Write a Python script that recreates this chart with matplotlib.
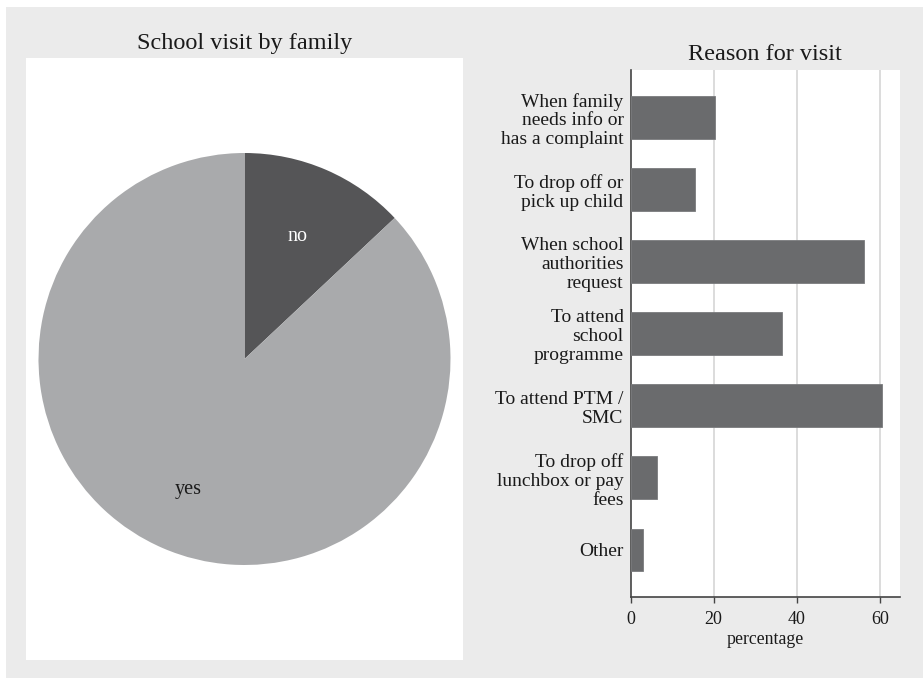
import matplotlib
matplotlib.use("Agg")
import matplotlib.pyplot as plt
from matplotlib.patches import Rectangle
import numpy as np

plt.rcParams['font.family'] = ['Liberation Serif', 'DejaVu Serif']

pie_labels = ["no", "yes"]
pie_values = [13.0, 87.0]
pie_colors = ["#555557", "#a9aaac"]

reasons = [
    "When family\nneeds info or\nhas a complaint",
    "To drop off or\npick up child",
    "When school\nauthorities\nrequest",
    "To attend\nschool\nprogramme",
    "To attend PTM /\nSMC",
    "To drop off\nlunchbox or pay\nfees",
    "Other",
]
reason_pct = [20.4, 15.6, 56.2, 36.5, 60.5, 6.4, 3.1]
xticks = [0, 20, 40, 60]

W, H = 923, 678
fig = plt.figure(figsize=(W / 100, H / 100), dpi=100, facecolor="white")

def fx(px):
    return px / W

def fy(py):
    return 1 - py / H

bg = "#ebebeb"
fig.patches.append(Rectangle((fx(6), 0), 1 - fx(6), fy(7), transform=fig.transFigure,
                             facecolor=bg, edgecolor="none", zorder=-10))

txt = "#1a1a1a"

# Pie panel
axp = fig.add_axes([fx(26), fy(660), fx(463) - fx(26), fy(58) - fy(660)])
wedges, _ = axp.pie(pie_values, colors=pie_colors, startangle=90, counterclock=False,
                    radius=1.0, wedgeprops=dict(linewidth=0))
for w, lab, d in zip(wedges, pie_labels, [0.65, 0.69]):
    th = np.deg2rad((w.theta1 + w.theta2) / 2)
    axp.text(d * np.cos(th), d * np.sin(th), lab, ha="center", va="center",
             fontsize=14.5, color=txt if lab == "yes" else "white")
axp.set_aspect("auto")
rx = (463 - 26) / 2 / 206
ry = (660 - 58) / 2 / 206
axp.set_xlim(-rx, rx)
axp.set_ylim(-ry, ry)
axp.set_frame_on(True)
axp.set_facecolor("white")
axp.set_xticks([])
axp.set_yticks([])
for s in axp.spines.values():
    s.set_visible(False)
fig.text(fx(245), fy(43), "School visit by family", ha="center", va="center",
         fontsize=17.5, color=txt)

# Bar panel
axb = fig.add_axes([fx(630.5), fy(597.3), fx(899.7) - fx(630.5), fy(70) - fy(597.3)])
axb.set_facecolor("white")
y = np.arange(len(reasons))
axb.barh(y, reason_pct, height=0.59, color="#6a6b6d", edgecolor="#7a7b7d", linewidth=0.6,
         zorder=3)
axb.set_ylim(len(reasons) - 1 + 0.66, -0.66)
axb.set_xlim(0, 64.8)
axb.set_yticks(y)
axb.set_yticklabels(reasons, fontsize=14, color=txt, linespacing=1.15)
axb.set_xticks(xticks)
axb.set_xticklabels([str(t) for t in xticks], fontsize=13, color=txt)
axb.tick_params(axis="y", length=0, pad=5)
axb.tick_params(axis="x", length=4, width=1, color="#444444", pad=6)
axb.grid(axis="x", color="#dcdcdc", linewidth=1.4, zorder=0)
for g in axb.get_xgridlines()[:1]:
    g.set_visible(False)
for s in ["top", "right"]:
    axb.spines[s].set_visible(False)
for s in ["left", "bottom"]:
    axb.spines[s].set_color("#444444")
    axb.spines[s].set_linewidth(1.2)
axb.set_xlabel("percentage", fontsize=12.8, color=txt, labelpad=2)
fig.text(fx(765), fy(54), "Reason for visit", ha="center", va="center",
         fontsize=17.5, color=txt)

fig.savefig("out.png", dpi=100, facecolor="white")
